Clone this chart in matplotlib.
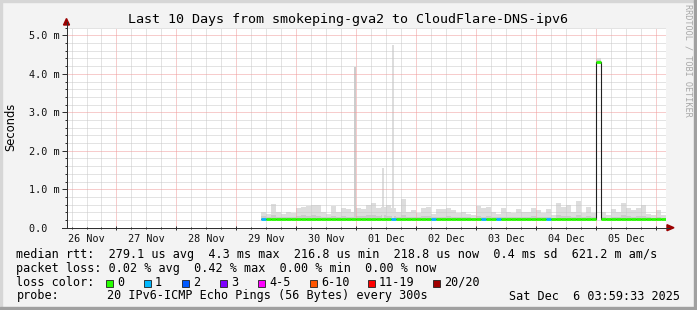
"""Smokeping style 10-day latency chart (RRDtool look) with matplotlib."""
import matplotlib
matplotlib.use("Agg")
import matplotlib.pyplot as plt
import matplotlib.dates as mdates
import matplotlib.ticker as mticker
from matplotlib.patches import Rectangle, Polygon
from matplotlib.lines import Line2D
import pandas as pd

W, H = 697, 310
MONO = "DejaVu Sans Mono"

title = "Last 10 Days from smokeping-gva2 to CloudFlare-DNS-ipv6"
t_start = pd.Timestamp("2025-11-26 03:59:33")
t_end = pd.Timestamp("2025-12-06 03:59:33")
data_start = pd.Timestamp("2025-11-29 10:00")

# 2 hour bins, values in ms ("m" on the axis)
smoke_max = [
    0.42, 0.35, 0.62, 0.40, 0.35, 0.42, 0.38, 0.50, 0.55, 0.56,
    0.58, 0.60, 0.42, 0.35, 0.57, 0.40, 0.50, 0.48, 0.40, 0.50,
    0.48, 0.60, 0.64, 0.50, 0.55, 0.58, 0.50, 0.42, 0.74, 0.42,
    0.45, 0.38, 0.51, 0.55, 0.35, 0.48, 0.48, 0.50, 0.47, 0.38,
    0.42, 0.36, 0.34, 0.57, 0.51, 0.55, 0.42, 0.36, 0.51, 0.42,
    0.38, 0.48, 0.42, 0.42, 0.51, 0.45, 0.38, 0.48, 0.34, 0.65,
    0.55, 0.60, 0.40, 0.70, 0.38, 0.53, 0.38, 4.42, 0.40, 0.34,
    0.48, 0.40, 0.65, 0.51, 0.47, 0.51, 0.60, 0.36, 0.34, 0.47,
    0.34,
]
smoke_mid = [
    0.30, 0.27, 0.33, 0.28, 0.27, 0.29, 0.28, 0.31, 0.32, 0.30,
    0.33, 0.31, 0.28, 0.27, 0.30, 0.28, 0.30, 0.29, 0.28, 0.31,
    0.30, 0.33, 0.34, 0.30, 0.32, 0.31, 0.30, 0.28, 0.33, 0.28,
    0.29, 0.27, 0.30, 0.31, 0.27, 0.29, 0.29, 0.30, 0.29, 0.27,
    0.28, 0.27, 0.26, 0.30, 0.29, 0.30, 0.28, 0.27, 0.29, 0.28,
    0.27, 0.29, 0.28, 0.28, 0.30, 0.28, 0.27, 0.29, 0.26, 0.32,
    0.30, 0.31, 0.28, 0.33, 0.27, 0.30, 0.27, 4.36, 0.28, 0.26,
    0.29, 0.28, 0.32, 0.30, 0.29, 0.30, 0.31, 0.27, 0.26, 0.29,
    0.26,
]
smoke_min = [
    0.21, 0.21, 0.20, 0.21, 0.21, 0.21, 0.21, 0.20, 0.20, 0.21,
    0.21, 0.21, 0.21, 0.21, 0.20, 0.21, 0.21, 0.21, 0.21, 0.20,
    0.21, 0.20, 0.20, 0.21, 0.21, 0.20, 0.21, 0.21, 0.20, 0.21,
    0.21, 0.21, 0.21, 0.21, 0.21, 0.20, 0.21, 0.21, 0.21, 0.21,
    0.21, 0.21, 0.21, 0.21, 0.21, 0.21, 0.21, 0.21, 0.21, 0.21,
    0.21, 0.21, 0.21, 0.21, 0.21, 0.21, 0.21, 0.21, 0.21, 0.21,
    0.21, 0.21, 0.21, 0.21, 0.21, 0.21, 0.21, 4.27, 0.21, 0.21,
    0.21, 0.21, 0.21, 0.21, 0.21, 0.21, 0.21, 0.21, 0.21, 0.21,
    0.21,
]
median = [
    0.22, 0.22, 0.23, 0.22, 0.22, 0.22, 0.22, 0.23, 0.23, 0.22,
    0.23, 0.22, 0.22, 0.22, 0.22, 0.22, 0.22, 0.22, 0.22, 0.23,
    0.23, 0.23, 0.23, 0.22, 0.22, 0.23, 0.22, 0.22, 0.22, 0.22,
    0.22, 0.22, 0.22, 0.22, 0.22, 0.22, 0.22, 0.22, 0.22, 0.22,
    0.22, 0.22, 0.22, 0.22, 0.22, 0.22, 0.22, 0.22, 0.22, 0.22,
    0.22, 0.22, 0.22, 0.22, 0.22, 0.22, 0.22, 0.22, 0.22, 0.22,
    0.22, 0.22, 0.22, 0.22, 0.22, 0.22, 0.22, 4.30, 0.22, 0.22,
    0.22, 0.22, 0.22, 0.22, 0.22, 0.22, 0.22, 0.22, 0.22, 0.22,
    0.22,
]
# bins where 1 of 20 pings was lost, everything else 0
lossy_bins = [0, 26, 34, 44, 47, 57]

# narrow single-sample outliers in the smoke
spike_starts = ["2025-11-30 23:00", "2025-12-01 10:24", "2025-12-01 14:24"]
spike_tops = [4.17, 1.55, 4.74]
spike_colors = ["#cccccc", "#dddddd", "#dddddd"]

loss_labels = ["0", "1", "2", "3", "4-5", "6-10", "11-19", "20/20"]
loss_colors = ["#26ff00", "#00b8ff", "#0059ff", "#7e00ff",
               "#ff00ff", "#ff5500", "#ff0000", "#a10000"]
loss_box_x = [106, 144, 182, 220, 258, 310, 368, 433]

legend_rtt = ("median rtt:  279.1 us avg  4.3 ms max  216.8 us min  "
              "218.8 us now  0.4 ms sd  621.2 m am/s")
legend_loss = "packet loss: 0.02 % avg  0.42 % max  0.00 % min  0.00 % now"
probe_text = "20 IPv6-ICMP Echo Pings (56 Bytes) every 300s"
stamp_text = "Sat Dec  6 03:59:33 2025"


def fx(x):
    return x / W


def fy(y):
    return 1 - y / H


fig = plt.figure(figsize=(W / 100, H / 100), dpi=100, facecolor="#f3f3f3")

# 3d-ish rrdtool frame
fig.add_artist(Rectangle((0, 1 - 2 / H), 1, 2 / H, transform=fig.transFigure, color="#d6d6d6"))
fig.add_artist(Rectangle((0, 0), 2 / W, 1, transform=fig.transFigure, color="#d6d6d6"))
fig.add_artist(Rectangle((0, 0), 1, 3 / H, transform=fig.transFigure, color="#a0a0a0"))
fig.add_artist(Rectangle((1 - 3 / W, 0), 3 / W, 1, transform=fig.transFigure, color="#a0a0a0"))

ax = fig.add_axes([fx(66.5), fy(227.7), 599.5 / W, 200 / H])
ax.set_facecolor("white")

edges = mdates.date2num(pd.date_range(data_start, periods=len(median) + 1, freq="2h"))
ax.stairs(smoke_max, edges, baseline=smoke_min, fill=True, color="#dddddd", lw=0, zorder=1)
ax.stairs(smoke_mid, edges, baseline=smoke_min, fill=True, color="#cbcbcb", lw=0, zorder=1.1)

sp_x = mdates.date2num(pd.to_datetime(spike_starts))
ax.bar(sp_x, [t - 0.21 for t in spike_tops], width=48 / 1440, bottom=0.21,
       align="edge", color=spike_colors, lw=0, zorder=1.2)

# thin dark median underneath, loss-coloured thick median on top
ax.stairs(median, edges, baseline=None, color="#202020", lw=0.8, zorder=3)
seg_colors = [loss_colors[1] if i in lossy_bins else loss_colors[0] for i in range(len(median))]
ax.hlines(median, edges[:-1], edges[1:], colors=seg_colors, lw=2.0, zorder=4)

ax.set_xlim(mdates.date2num(t_start), mdates.date2num(t_end))
ax.set_ylim(0, 5.2)
ax.xaxis_date()

ax.xaxis.set_major_locator(mdates.DayLocator())
ax.xaxis.set_minor_locator(mdates.HourLocator(byhour=[6, 12, 18]))
ax.yaxis.set_major_locator(mticker.MultipleLocator(1.0))
ax.yaxis.set_minor_locator(mticker.MultipleLocator(0.2))
ax.yaxis.set_major_formatter(
    mticker.FuncFormatter(lambda v, _: f"{v:.1f} m" if v > 0 else "0.0  "))

ax.set_axisbelow(False)
ax.grid(True, which="minor", color="#c8c8c8", lw=0.72, linestyle=(0, (1, 1)))
ax.grid(True, which="major", color="#f19a9a", lw=0.72, linestyle=(0, (1, 1)))

for side in ("top", "right"):
    ax.spines[side].set_visible(False)
for side in ("left", "bottom"):
    ax.spines[side].set_color("#303030")
    ax.spines[side].set_linewidth(0.72)
    ax.spines[side].set_zorder(5)

ax.tick_params(axis="y", which="major", length=3.5, width=0.72, color="#303030",
               pad=1.5, labelsize=7.3, labelfontfamily=MONO, labelcolor="#111111")
ax.tick_params(axis="y", which="minor", length=1.5, width=0.72, color="#303030")
ax.tick_params(axis="x", which="major", length=2.5, width=0.72, color="#303030",
               direction="inout", labelbottom=False)
ax.tick_params(axis="x", which="minor", length=1.5, width=0.72, color="#303030",
               direction="inout")

for d in pd.date_range("2025-11-26 12:00", periods=10, freq="D"):
    ax.text(mdates.date2num(d), -0.055, d.strftime("%d %b"), transform=ax.get_xaxis_transform(),
            ha="center", va="center", fontsize=7.3, family=MONO, color="#111111")

# axis extensions with rrdtool arrow heads
fig.add_artist(Line2D([fx(66.5), fx(66.5)], [fy(227.7), fy(22)], color="#303030", lw=0.72))
fig.add_artist(Line2D([fx(62), fx(669)], [fy(227.7), fy(227.7)], color="#303030", lw=0.72))
fig.add_artist(Polygon([(fx(63.5), fy(25)), (fx(69.5), fy(25)), (fx(66.5), fy(18.5))],
                       closed=True, transform=fig.transFigure, color="#9a0000"))
fig.add_artist(Polygon([(fx(667), fy(224.7)), (fx(667), fy(230.7)), (fx(674), fy(227.7))],
                       closed=True, transform=fig.transFigure, color="#9a0000"))

fig.text(fx(348), fy(19.5), title, ha="center", va="center", fontsize=9.6, family=MONO)
fig.text(fx(11), fy(127), "Seconds", rotation=90, ha="center", va="center",
         fontsize=8.3, family="DejaVu Sans")
fig.text(fx(688), fy(4), "RRDTOOL / TOBI OETIKER", rotation=270, ha="center", va="top",
         fontsize=6.1, family=MONO, color="#a8a8a8")

fig.text(fx(16.4), fy(254.3), legend_rtt, ha="left", va="center", fontsize=8.5, family=MONO)
fig.text(fx(16.4), fy(268.3), legend_loss, ha="left", va="center", fontsize=8.5, family=MONO)
fig.text(fx(16.4), fy(282.3), "loss color:", ha="left", va="center", fontsize=8.5, family=MONO)
for bx, lab, col in zip(loss_box_x, loss_labels, loss_colors):
    fig.add_artist(Rectangle((fx(bx), fy(286.5)), 7 / W, 7 / H, transform=fig.transFigure,
                             facecolor=col, edgecolor="#202020", lw=0.6))
    fig.text(fx(bx + 11), fy(282.3), lab, ha="left", va="center", fontsize=8.5, family=MONO)
fig.text(fx(16.4), fy(296), "probe:", ha="left", va="center", fontsize=8.5, family=MONO)
fig.text(fx(107.3), fy(296), probe_text, ha="left", va="center", fontsize=8.5, family=MONO)
fig.text(fx(680), fy(296), stamp_text, ha="right", va="center", fontsize=8.5, family=MONO)

fig.savefig("out.png", dpi=100, facecolor=fig.get_facecolor())
plt.close(fig)
